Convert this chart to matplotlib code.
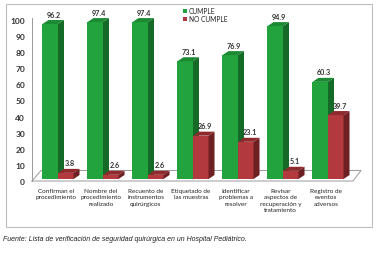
import numpy as np
import matplotlib
matplotlib.use("Agg")
import matplotlib.pyplot as plt
from matplotlib.patches import Polygon, Rectangle
from matplotlib.transforms import ScaledTranslation

# datos
categorias = ["Confirman el\nprocedimiento",
              "Nombre del\nprocedimiento\nrealizado",
              "Recuento de\ninstrumentos\nquirúrgicos",
              "Etiquetado de\nlas muestras",
              "Identificar\nproblemas a\nresolver",
              "Revisar\naspectos de\nrecuperación y\ntratamiento",
              "Registro de\neventos\nadversos"]
cumple = [96.2, 97.4, 97.4, 73.1, 76.9, 94.9, 60.3]
no_cumple = [3.8, 2.6, 2.6, 26.9, 23.1, 5.1, 39.7]
yticks = [0, 10, 20, 30, 40, 50, 60, 70, 80, 90, 100]
series = ["CUMPLE", "NO CUMPLE"]

W, H = 381, 255
fig = plt.figure(figsize=(W / 100, H / 100), dpi=100)
plt.rcParams['font.family'] = ['Lato', 'DejaVu Sans']

verde = ('#22a33d', '#156a28', '#1b8a33')
rojo = ('#b2393e', '#6e1f22', '#8e2a2e')

# escala: 45 px por grupo, 1.611 px por unidad
px_x = 45.0
px_y = 1.611
x0_px = 58.0   # centro del primer grupo
y0_px = 180.0  # base de las barras
ax_l, ax_r = 32, 361
ymin, ymax = -1.5, 100
ax_bot = y0_px - ymin * px_y
ax_top = y0_px - ymax * px_y
ax = fig.add_axes([ax_l / W, (H - ax_bot) / H, (ax_r - ax_l) / W, (ax_bot - ax_top) / H])
ax.set_xlim((ax_l - x0_px) / px_x, (ax_r - x0_px) / px_x)
ax.set_ylim(ymin, ymax)
for s in ax.spines.values():
    s.set_visible(False)
ax.set_xticks([])
ax.set_yticks(yticks)
ax.tick_params(axis='y', length=0, labelsize=6, pad=5, labelcolor='#333333')
for lb in ax.get_yticklabels():
    lb.set_fontweight('bold')
    lb.set_transform(lb.get_transform() + ScaledTranslation(0, -2 / 100, fig.dpi_scale_trans))

x = np.arange(len(categorias))
bw = 0.345
dx = 6 / px_x
dy = 4 / px_y

# suelo y eje
xl, xr = ax.get_xlim()
f_front = -2 / px_y
f_back = 5.3
floor_x = [xl, xr - 8 / px_x, xr, xl + 9 / px_x, xl]
floor_y = [f_front, f_front, f_back, f_back, f_front]
ax.plot(floor_x, floor_y, color='#9a9a9a', lw=0.7, clip_on=False, zorder=1)
ax.plot([xl, xl], [f_front, 100], color='#9a9a9a', lw=0.7, clip_on=False, zorder=1)

def bar3d(xc, v, cols):
    front, side, top = cols
    a, b = xc - bw / 2, xc + bw / 2
    ax.add_patch(Rectangle((a, 0), bw, v, facecolor=front, edgecolor='none', zorder=3))
    ax.add_patch(Polygon([(b, 0), (b + dx, dy), (b + dx, v + dy), (b, v)],
                         facecolor=side, edgecolor='none', zorder=3, clip_on=False))
    ax.add_patch(Polygon([(a, v), (a + dx, v + dy), (b + dx, v + dy), (b, v)],
                         facecolor=top, edgecolor='none', zorder=3, clip_on=False))
    ax.text(xc + dx / 2 + 0.02, v + dy + 1.5, f"{v:.1f}", ha='center', va='bottom',
            fontsize=5.2, fontweight='bold', color='#333333', clip_on=False)

for i in range(len(categorias)):
    bar3d(x[i] - bw / 2, cumple[i], verde)
    bar3d(x[i] + bw / 2, no_cumple[i], rojo)

# etiquetas de categorias
for i, c in enumerate(categorias):
    ax.text(x[i] - 0.05, -5.5, c, ha='center', va='top', fontsize=4.6,
            color='#222222', linespacing=1.35, clip_on=False)

# leyenda
for k, (nombre, cols) in enumerate(zip(series, [verde, rojo])):
    yc = 12 + 7.5 * k
    fig.patches.append(Rectangle((183 / W, 1 - (yc + 2) / H), 4 / W, 4 / H,
                                 transform=fig.transFigure, facecolor=cols[0],
                                 edgecolor='none'))
    fig.text(189 / W, 1 - yc / H, nombre, fontsize=4.8, ha='left', va='center',
             color='#222222')

# marco
fig.patches.append(Rectangle((6 / W, 1 - 228 / H), 366 / W, 223 / H, transform=fig.transFigure,
                             fill=False, edgecolor='#bdbdbd', lw=0.8))

fig.text(3 / W, 1 - 240 / H,
         "Fuente: Lista de verificación de seguridad quirúrgica en un Hospital Pediátrico.",
         fontsize=5, style='italic', ha='left', va='center', family='Liberation Sans',
         color='#222222')

fig.savefig("out.png", dpi=100, facecolor='white')
